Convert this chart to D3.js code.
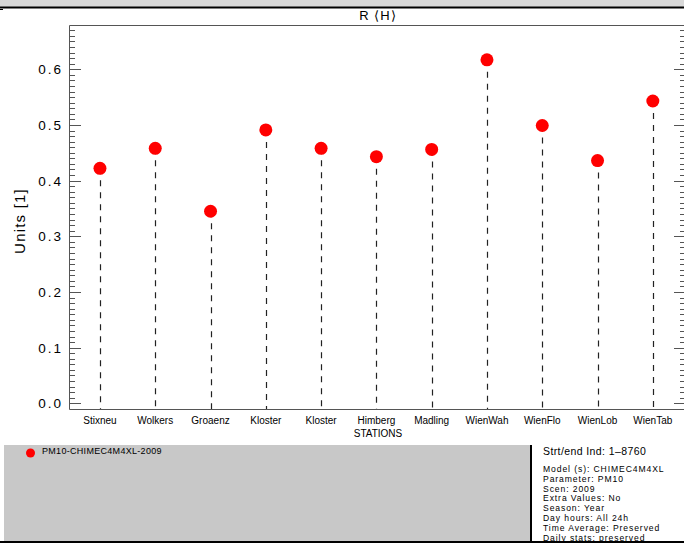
<!DOCTYPE html>
<html>
<head>
<meta charset="utf-8">
<script src="https://cdnjs.cloudflare.com/ajax/libs/d3/7.8.5/d3.min.js"></script>
<style>
  html, body { margin: 0; padding: 0; background: #ffffff; }
  svg { display: block; }
  text { font-family: "Liberation Sans", Arial, sans-serif; fill: #000; }
</style>
</head>
<body>
<div id="chart"></div>
<script>
// Station names along the x axis
const stations = ["Stixneu", "Wolkers", "Groaenz", "Kloster", "Kloster", "Himberg",
                  "Madling", "WienWah", "WienFlo", "WienLob", "WienTab"];
// R <H> per station
const values = [0.422, 0.458, 0.345, 0.491, 0.458, 0.443, 0.456, 0.617, 0.499, 0.436, 0.543];
// Labelled y ticks
const yTicks = [0.0, 0.1, 0.2, 0.3, 0.4, 0.5, 0.6];
// Legend entry and run information
const seriesName = "PM10-CHIMEC4M4XL-2009";
const infoHeader = "Strt/end Ind: 1\u20138760";
const infoLines = ["Model (s): CHIMEC4M4XL", "Parameter: PM10", "Scen: 2009",
                   "Extra Values: No", "Season: Year", "Day hours: All 24h",
                   "Time Average: Preserved", "Daily stats: preserved"];

const W = 684, H = 543;
const plot = { left: 69, right: 686, top: 25, bottom: 409 };

const svg = d3.select("#chart").append("svg")
  .attr("width", W).attr("height", H);

// Top band
svg.append("rect").attr("x", 0).attr("y", 0).attr("width", W).attr("height", 7)
  .attr("fill", "#d8d8d8");
svg.append("line").attr("x1", 0).attr("x2", W).attr("y1", 7.5).attr("y2", 7.5)
  .attr("stroke", "#000").attr("stroke-width", 2);
svg.append("line").attr("x1", 0).attr("x2", 3).attr("y1", 9.5).attr("y2", 9.5)
  .attr("stroke", "#000").attr("stroke-width", 1);

const x = d3.scaleLinear().domain([-0.56, 10.6]).range([plot.left, plot.right]);
const y = d3.scaleLinear().domain([-0.0102, 0.6795]).range([plot.bottom, plot.top]);

// Frame
const frame = svg.append("g").attr("stroke", "#555").attr("stroke-width", 1).attr("fill", "none");
frame.append("path")
  .attr("d", `M${plot.right},${plot.top + 0.5}H${plot.left + 0.5}V${plot.bottom + 0.5}H${plot.right}`);

// Minor and major ticks on left and right axes
const minor = d3.range(0, 68).map(i => i / 100);
const ticksG = svg.append("g").attr("stroke", "#555").attr("stroke-width", 1);
ticksG.selectAll(".minL").data(minor).join("line")
  .attr("x1", plot.left).attr("x2", plot.left + 6)
  .attr("y1", d => Math.round(y(d)) + 0.5).attr("y2", d => Math.round(y(d)) + 0.5);
ticksG.selectAll(".minR").data(minor).join("line")
  .attr("x1", plot.right).attr("x2", plot.right - 6)
  .attr("y1", d => Math.round(y(d)) + 0.5).attr("y2", d => Math.round(y(d)) + 0.5);
ticksG.selectAll(".majL").data(yTicks).join("line")
  .attr("x1", plot.left).attr("x2", plot.left + 12)
  .attr("y1", d => Math.round(y(d)) + 0.5).attr("y2", d => Math.round(y(d)) + 0.5);
ticksG.selectAll(".majR").data(yTicks).join("line")
  .attr("x1", plot.right).attr("x2", plot.right - 12)
  .attr("y1", d => Math.round(y(d)) + 0.5).attr("y2", d => Math.round(y(d)) + 0.5);

// Y tick labels
svg.append("g").selectAll("text").data(yTicks).join("text")
  .attr("x", 63).attr("y", d => y(d) + 5)
  .attr("text-anchor", "end")
  .attr("font-size", 13.5).attr("letter-spacing", 2)
  .text(d => d3.format(".1f")(d));

// Axis titles
svg.append("text")
  .attr("transform", `translate(25,${(plot.top + plot.bottom) / 2 + 4}) rotate(-90)`)
  .attr("text-anchor", "middle").attr("font-size", 15).attr("letter-spacing", 1.2)
  .text("Units [1]");
svg.append("text").attr("x", 378).attr("y", 20).attr("text-anchor", "middle")
  .attr("font-size", 13).attr("letter-spacing", 1)
  .text("R \u27E8H\u27E9");
svg.append("text").attr("x", 378).attr("y", 437).attr("text-anchor", "middle")
  .attr("font-size", 10)
  .text("STATIONS");

// Category labels
svg.append("g").selectAll("text").data(stations).join("text")
  .attr("x", (d, i) => x(i)).attr("y", 424)
  .attr("text-anchor", "middle").attr("font-size", 10)
  .text(d => d);

// Dashed drop lines
svg.append("g").selectAll("line").data(values).join("line")
  .attr("x1", (d, i) => Math.round(x(i)) + 0.5).attr("x2", (d, i) => Math.round(x(i)) + 0.5)
  .attr("y1", d => y(d)).attr("y2", plot.bottom)
  .attr("stroke", "#222").attr("stroke-width", 1.2)
  .attr("stroke-dasharray", "6,6");

// Points
svg.append("g").selectAll("circle").data(values).join("circle")
  .attr("cx", (d, i) => x(i)).attr("cy", d => y(d)).attr("r", 6.5)
  .attr("fill", "#ff0000");

// Bottom info panel
svg.append("rect").attr("x", 4).attr("y", 445).attr("width", 526).attr("height", 96)
  .attr("fill", "#c8c8c8");
svg.append("line").attr("x1", 531).attr("x2", 531).attr("y1", 445).attr("y2", 542)
  .attr("stroke", "#000").attr("stroke-width", 2);
svg.append("line").attr("x1", 0).attr("x2", W).attr("y1", 542).attr("y2", 542)
  .attr("stroke", "#000").attr("stroke-width", 2);

// Legend
svg.append("circle").attr("cx", 30.5).attr("cy", 453).attr("r", 4.5).attr("fill", "#ff0000");
svg.append("text").attr("x", 42).attr("y", 454).attr("font-size", 9)
  .attr("letter-spacing", 0.3).text(seriesName);

// Run information text
svg.append("text").attr("x", 543).attr("y", 455).attr("font-size", 10.5)
  .attr("letter-spacing", 0.4).text(infoHeader);
svg.append("g").selectAll("text").data(infoLines).join("text")
  .attr("x", 543).attr("y", (d, i) => 472 + i * 9.8)
  .attr("font-size", 8.6).attr("letter-spacing", 0.9)
  .text(d => d);
</script>
</body>
</html>
